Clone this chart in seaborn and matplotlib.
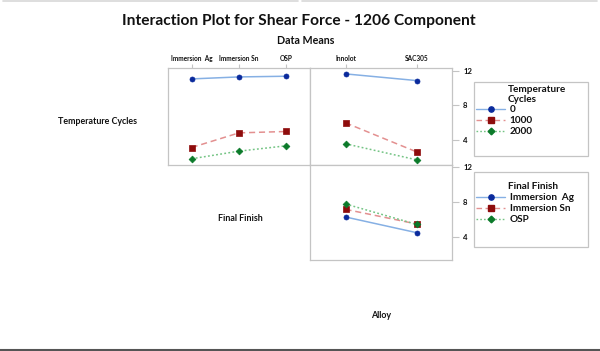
import matplotlib
matplotlib.use("Agg")
import matplotlib.pyplot as plt
import seaborn as sns
import pandas as pd
from matplotlib.lines import Line2D
from matplotlib.patches import Rectangle

# ---- data ----
tc_levels = ["0", "1000", "2000"]
finish_levels = ["Immersion  Ag", "Immersion Sn", "OSP"]
alloy_levels = ["Innolot", "SAC305"]

tc0_by_finish = [11.04, 11.27, 11.35]
tc1000_by_finish = [3.12, 4.81, 4.97]
tc2000_by_finish = [1.82, 2.70, 3.32]

tc0_by_alloy = [11.62, 10.85]
tc1000_by_alloy = [5.97, 2.62]
tc2000_by_alloy = [3.55, 1.70]

ag_by_alloy = [6.29, 4.51]
sn_by_alloy = [7.16, 5.50]
osp_by_alloy = [7.77, 5.45]

y_ticks = [4, 8, 12]

# ---- build tables ----
def table(xlevels, groups, group_names):
    rows = []
    for g, vals in zip(group_names, groups):
        for i, (x, v) in enumerate(zip(xlevels, vals)):
            rows.append({"x": x, "pos": i, "g": g, "mean": v})
    return pd.DataFrame(rows)

df_tf = table(finish_levels, [tc0_by_finish, tc1000_by_finish, tc2000_by_finish], tc_levels)
df_ta = table(alloy_levels, [tc0_by_alloy, tc1000_by_alloy, tc2000_by_alloy], tc_levels)
df_fa = table(alloy_levels, [ag_by_alloy, sn_by_alloy, osp_by_alloy], finish_levels)

sns.set_theme(style="white")
FONT = ["Lato", "DejaVu Sans"]
plt.rcParams["font.family"] = FONT
plt.rcParams["font.weight"] = "bold"

line_cols = ["#86b0e4", "#e39090", "#74c484"]
mark_cols = ["#0a2a9c", "#8e0c0c", "#0b7a2a"]
dashes = [(None, None), (4, 2.5), (1.2, 1.5)]
markers = ["o", "s", "D"]
frame_col = "#c4c4c4"
txt_col = "#111111"

fig = plt.figure(figsize=(6.0, 3.51), dpi=100)
W, H = 600.0, 351.0

def ax_at(x0, y0, x1, y1):
    return fig.add_axes([x0 / W, 1 - y1 / H, (x1 - x0) / W, (y1 - y0) / H])

ax_tf = ax_at(168, 68, 310, 165)
ax_ta = ax_at(310, 68, 452, 165)
ax_fa = ax_at(310, 165, 452, 260)

def ls_of(i):
    return "-" if i == 0 else (0, dashes[i])

def draw(ax, df, glevels):
    for i, g in enumerate(glevels):
        sub = df[df["g"] == g]
        sns.lineplot(data=sub, x="pos", y="mean", ax=ax, color=line_cols[i],
                     linewidth=1.1, linestyle=ls_of(i), legend=False, errorbar=None)
        sns.scatterplot(data=sub, x="pos", y="mean", ax=ax, color=mark_cols[i],
                        marker=markers[i], s=13 if i != 2 else 12, edgecolor=mark_cols[i],
                        linewidth=0.5, legend=False, zorder=5)
    ax.set_xlabel("")
    ax.set_ylabel("")
    for sp in ax.spines.values():
        sp.set_color(frame_col)
        sp.set_linewidth(0.9)

draw(ax_tf, df_tf, tc_levels)
draw(ax_ta, df_ta, tc_levels)
draw(ax_fa, df_fa, finish_levels)

ax_tf.set_xlim(-0.5, 2.5)
ax_ta.set_xlim(-0.5, 1.5)
ax_fa.set_xlim(-0.5, 1.5)
ax_tf.set_ylim(1.1, 12.3)
ax_ta.set_ylim(1.1, 12.3)
ax_fa.set_ylim(1.4, 12.2)

for ax, lv in [(ax_tf, finish_levels), (ax_ta, alloy_levels)]:
    ax.set_xticks(range(len(lv)))
    ax.set_xticklabels(lv, fontweight="bold")
    ax.xaxis.tick_top()
    ax.tick_params(axis="x", direction="out", top=True, bottom=False,
                   colors=frame_col, length=3, width=0.8, labelcolor=txt_col,
                   labelsize=4.7, pad=1.5)
ax_fa.set_xticks([])

ax_tf.set_yticks([])
for ax in (ax_ta, ax_fa):
    ax.set_yticks(y_ticks)
    ax.set_yticklabels([str(t) for t in y_ticks], fontweight="bold")
    ax.yaxis.tick_right()
    ax.tick_params(axis="y", direction="out", right=True, left=False,
                   colors=frame_col, length=5, width=0.8, labelcolor=txt_col,
                   labelsize=5.6, pad=3)

# ---- texts ----
fig.text(299 / W, 1 - 21 / H, "Interaction Plot for Shear Force - 1206 Component",
         ha="center", va="center", fontsize=11.2, fontweight="bold", color=txt_col)
fig.text(306 / W, 1 - 40 / H, "Data Means", ha="center", va="center",
         fontsize=7.7, fontweight="bold", color=txt_col)
fig.text(98 / W, 1 - 122 / H, "Temperature Cycles", ha="center", va="center",
         fontsize=6.4, fontweight="bold", color=txt_col)
fig.text(240 / W, 1 - 218 / H, "Final Finish", ha="center", va="center",
         fontsize=6.4, fontweight="bold", color=txt_col)
fig.text(381 / W, 1 - 315 / H, "Alloy", ha="center", va="center",
         fontsize=6.4, fontweight="bold", color=txt_col)

# ---- legends ----
def legend_box(x0, y0, x1, y1, title_lines, title_y, labels, first_y):
    fig.patches.append(Rectangle((x0 / W, 1 - y1 / H), (x1 - x0) / W, (y1 - y0) / H,
                                 transform=fig.transFigure, fill=False,
                                 edgecolor=frame_col, linewidth=0.9))
    for k, tl in enumerate(title_lines):
        fig.text(508 / W, 1 - (title_y + 10 * k) / H, tl, ha="left", va="center",
                 fontsize=7.2, fontweight="bold", color=txt_col)
    handles = []
    for i, lab in enumerate(labels):
        handles.append(Line2D([], [], color=line_cols[i], linestyle=ls_of(i), linewidth=1.0,
                              marker=markers[i], markersize=3.8 if i != 2 else 3.4,
                              markerfacecolor=mark_cols[i], markeredgecolor=mark_cols[i]))
    leg = fig.legend(handles, labels, loc="upper left",
                     bbox_to_anchor=(476 / W, 1 - (first_y - 5) / H), frameon=False,
                     fontsize=7.2, handlelength=2.9, handletextpad=0.45,
                     labelspacing=0.2, borderpad=0.0, borderaxespad=0.0)
    for t in leg.get_texts():
        t.set_fontweight("bold")
        t.set_color(txt_col)
    return leg

legend_box(474, 82, 588, 156, ["Temperature", "Cycles"], 90, tc_levels, 110)
legend_box(474, 172, 588, 247, ["Final Finish"], 187, finish_levels, 198)

# frame lines of the original picture
fig.add_artist(Line2D([0.005, 0.497], [0.998, 0.998], transform=fig.transFigure,
                      color="#d8d8d8", linewidth=1.2))
fig.add_artist(Line2D([0.503, 0.995], [0.998, 0.998], transform=fig.transFigure,
                      color="#d8d8d8", linewidth=1.2))
fig.add_artist(Line2D([0, 1], [1 - 349.5 / H, 1 - 349.5 / H], transform=fig.transFigure,
                      color="#555555", linewidth=1.5))

fig.savefig("out.png", dpi=100)
